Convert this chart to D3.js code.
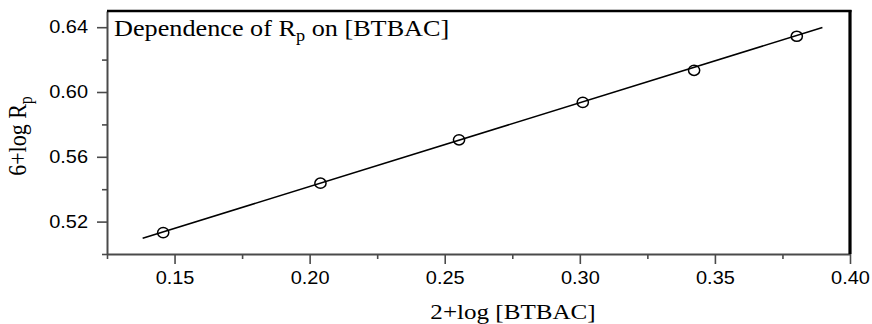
<!DOCTYPE html>
<html>
<head>
<meta charset="utf-8">
<script src="https://cdn.jsdelivr.net/npm/d3@7"></script>
<style>
  body { margin: 0; background: #fff; }
  svg { display: block; }
</style>
</head>
<body>
<div id="chart"></div>
<script>
// measured points: x = 2+log[BTBAC], y = 6+log Rp
const xValues = [0.1458, 0.2040, 0.2553, 0.3011, 0.3423, 0.3803];
const yValues = [0.5132, 0.5437, 0.5705, 0.5936, 0.6134, 0.6344];
// ends of the drawn fit line
const fitX = [0.1382, 0.3898];
const fitY = [0.5097, 0.6398];
const xMajorTicks = [0.15, 0.20, 0.25, 0.30, 0.35, 0.40];
const xMinorTicks = [0.125, 0.175, 0.225, 0.275, 0.325, 0.375];
const yMajorTicks = [0.52, 0.56, 0.60, 0.64];
const yMinorTicks = [0.50, 0.54, 0.58, 0.62];

const width = 872, height = 324;
const margin = { top: 11, right: 22, bottom: 70, left: 107 };
const innerW = width - margin.left - margin.right;
const innerH = height - margin.top - margin.bottom;
const stretch = 1.14; // the original figure is a bit wider than tall

const svg = d3.select('#chart').append('svg')
  .attr('width', width)
  .attr('height', height);

const g = svg.append('g')
  .attr('transform', `translate(${margin.left},${margin.top})`);

const x = d3.scaleLinear().domain([0.125, 0.40]).range([0, innerW]);
const y = d3.scaleLinear().domain([0.50, 0.65]).range([innerH, 0]);

const axisColor = '#4a4a4a';
const tickFont = '"Liberation Sans", Arial, sans-serif';
const serif = '"Liberation Serif", "Times New Roman", serif';

// minor ticks
g.append('g')
  .attr('transform', `translate(0,${innerH})`)
  .call(d3.axisBottom(x).tickValues(xMinorTicks).tickSize(5).tickFormat(''))
  .call(a => a.select('.domain').remove());
g.append('g')
  .call(d3.axisLeft(y).tickValues(yMinorTicks).tickSize(5).tickFormat(''))
  .call(a => a.select('.domain').remove());

// major ticks + labels
const xAxis = g.append('g')
  .attr('transform', `translate(0,${innerH})`)
  .call(d3.axisBottom(x).tickValues(xMajorTicks).tickSize(10).tickPadding(8)
    .tickSizeOuter(0).tickFormat(d3.format('.2f')));
const yAxis = g.append('g')
  .call(d3.axisLeft(y).tickValues(yMajorTicks).tickSize(10).tickPadding(9)
    .tickSizeOuter(0).tickFormat(d3.format('.2f')));

g.selectAll('.tick line').attr('stroke', axisColor).attr('stroke-width', 1.6);
g.selectAll('.domain').attr('stroke', axisColor).attr('stroke-width', 2);

xAxis.selectAll('text')
  .style('font-family', tickFont).style('font-size', '17.5px').attr('fill', '#000')
  .attr('transform', `scale(${stretch},1)`);
yAxis.selectAll('text')
  .style('font-family', tickFont).style('font-size', '17.5px').attr('fill', '#000')
  .attr('x', -19 / stretch)
  .attr('transform', `scale(${stretch},1)`);

// top and right frame
g.append('line')
  .attr('x1', 0).attr('x2', innerW + 1.5).attr('y1', 0).attr('y2', 0)
  .attr('stroke', '#000').attr('stroke-width', 2.6);
g.append('line')
  .attr('x1', innerW).attr('x2', innerW).attr('y1', -1).attr('y2', innerH)
  .attr('stroke', '#000').attr('stroke-width', 3.2);

// fit line
g.append('line')
  .attr('x1', x(fitX[0])).attr('y1', y(fitY[0]))
  .attr('x2', x(fitX[1])).attr('y2', y(fitY[1]))
  .attr('stroke', '#000').attr('stroke-width', 1.6);

// points
g.append('g')
  .selectAll('ellipse')
  .data(xValues.map((v, i) => ({ x: v, y: yValues[i] })))
  .join('ellipse')
  .attr('cx', d => x(d.x))
  .attr('cy', d => y(d.y))
  .attr('rx', 5.6)
  .attr('ry', 5.1)
  .attr('fill', 'none')
  .attr('stroke', '#000')
  .attr('stroke-width', 1.5);

// title inside the plot
const title = svg.append('text')
  .attr('transform', `translate(114,36) scale(${stretch},1)`)
  .style('font-family', serif)
  .style('font-size', '23px');
title.append('tspan').text('Dependence of R');
title.append('tspan').attr('dy', 5).style('font-size', '16px').text('p');
title.append('tspan').attr('dy', -5).text(' on [BTBAC]');

// x label
svg.append('text')
  .attr('transform', `translate(513,319) scale(${stretch},1)`)
  .attr('text-anchor', 'middle')
  .style('font-family', serif)
  .style('font-size', '22px')
  .text('2+log [BTBAC]');

// y label
const ylab = svg.append('text')
  .attr('transform', `translate(26,136) rotate(-90) scale(1,${stretch})`)
  .attr('text-anchor', 'middle')
  .style('font-family', serif)
  .style('font-size', '22px');
ylab.append('tspan').text('6+log R');
ylab.append('tspan').attr('dy', 5).style('font-size', '16px').text('p');
</script>
</body>
</html>
